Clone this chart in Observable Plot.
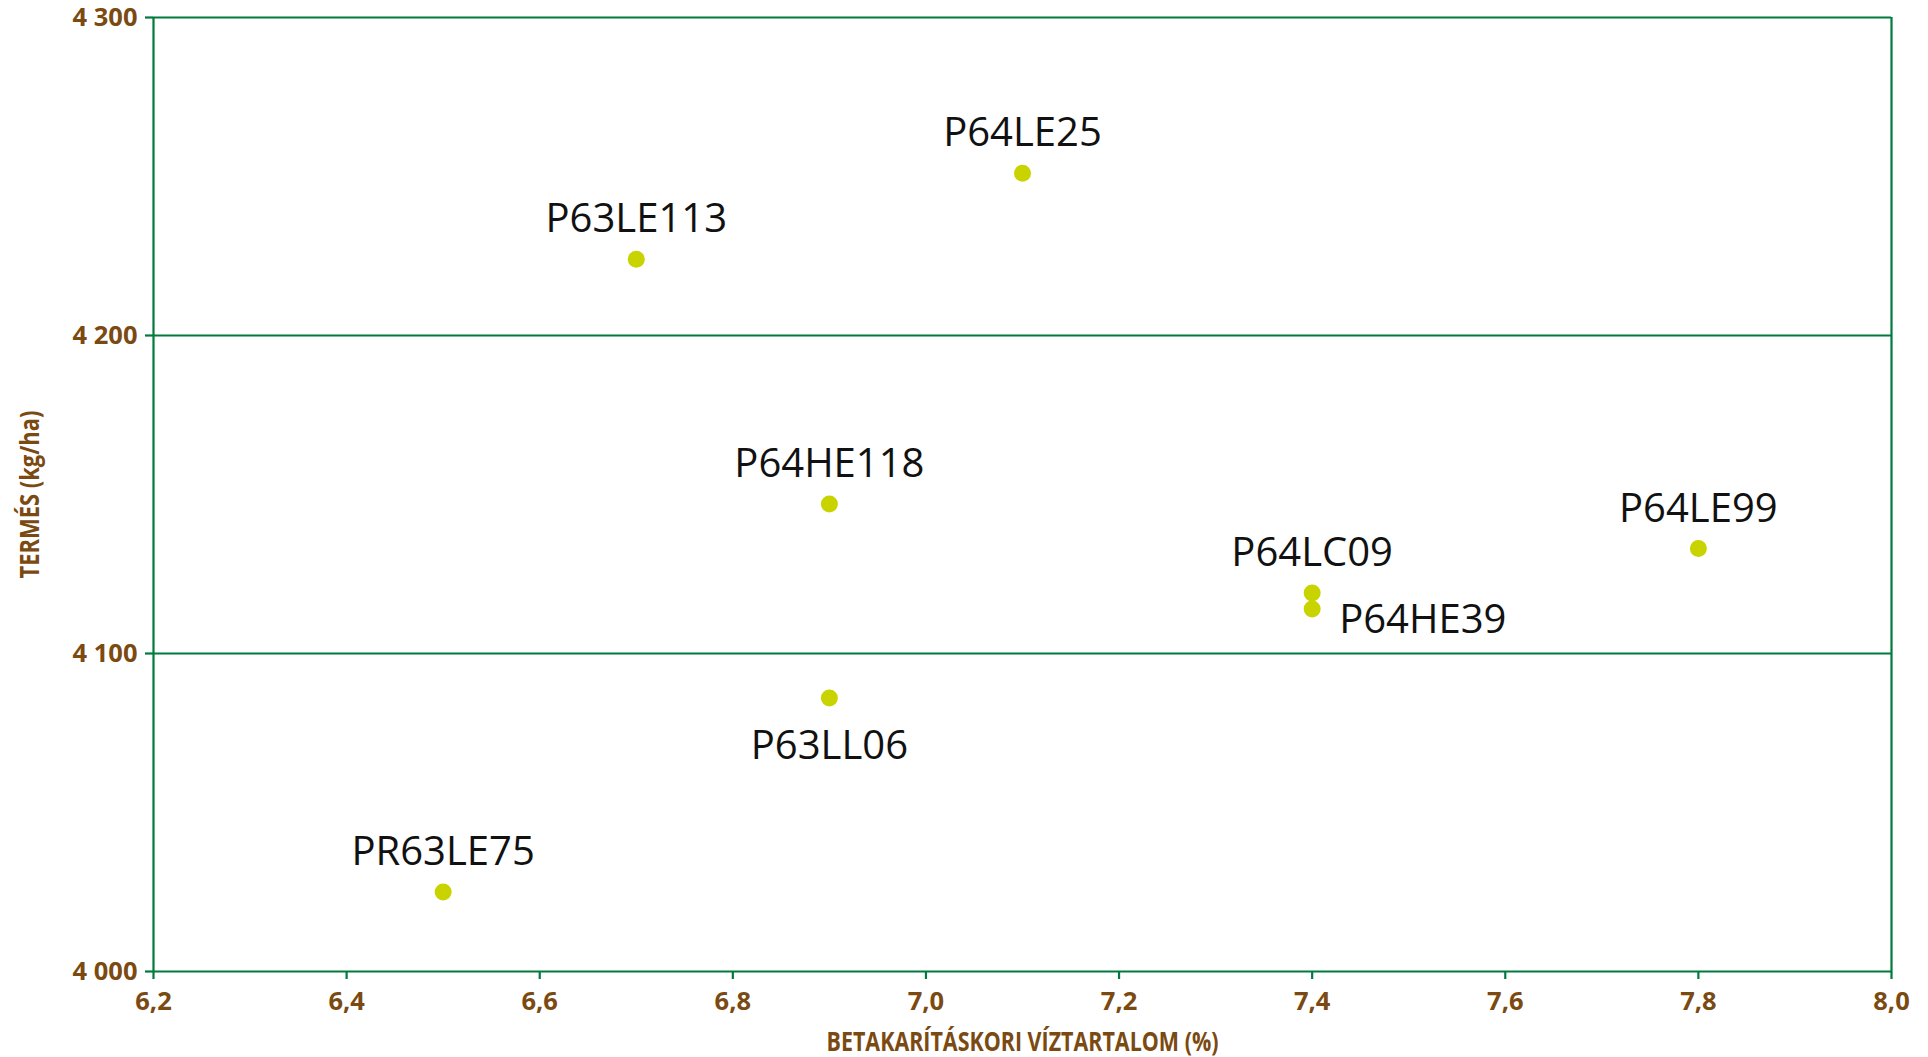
<!DOCTYPE html>
<html>
<head>
<meta charset="utf-8">
<script src="https://cdn.jsdelivr.net/npm/d3@7"></script>
<script src="https://cdn.jsdelivr.net/npm/@observablehq/plot@0.6"></script>
<style>
  html, body { margin: 0; padding: 0; background: #fff; }
  #chart svg { display: block; }
  #chart g[aria-label="x-axis tick"], #chart g[aria-label="y-axis tick"] { stroke: #007a3d; }
</style>
</head>
<body>
<div id="chart"></div>
<script>
// ---- data ----
const hybrids = ["PR63LE75", "P63LE113", "P64LE25", "P64HE118", "P63LL06", "P64LC09", "P64HE39", "P64LE99"];
const moisture = [6.5, 6.7, 7.1, 6.9, 6.9, 7.4, 7.4, 7.8];           // BETAKARÍTÁSKORI VÍZTARTALOM (%)
const yieldKg  = [4025, 4224, 4251, 4147, 4086, 4119, 4114, 4133];  // TERMÉS (kg/ha)
const xTicks = [6.2, 6.4, 6.6, 6.8, 7.0, 7.2, 7.4, 7.6, 7.8, 8.0];
const yTicks = [4000, 4100, 4200, 4300];
const xTitle = "BETAKARÍTÁSKORI VÍZTARTALOM (%)";
const yTitle = "TERMÉS (kg/ha)";

const rows = hybrids.map((name, i) => ({name, x: moisture[i], y: yieldKg[i]}));
const labelsBelow = new Set(["P63LL06"]);
const labelsRight = new Set(["P64HE39"]);

const green = "#007a3d";
const brown = "#7a4a12";
const dotColor = "#c9d300";

const chart = Plot.plot({
  width: 1928,
  height: 1057,
  marginLeft: 153,
  marginRight: 37,
  marginTop: 17,
  marginBottom: 86,
  style: {fontFamily: "'Open Sans', sans-serif", color: brown, background: "#fff"},
  x: {domain: [6.2, 8.0], label: xTitle, labelAnchor: "center", labelArrow: "none"},
  y: {domain: [4000, 4300], label: yTitle, labelAnchor: "center", labelArrow: "none"},
  marks: [
    Plot.ruleY(yTicks, {stroke: green, strokeWidth: 2.2}),
    Plot.ruleX([xTicks[0], xTicks[xTicks.length - 1]], {stroke: green, strokeWidth: 2.2}),
    Plot.axisX(xTicks, {
      tickSize: 8, tickPadding: 12,
      tickFormat: d => d.toFixed(1).replace(".", ","),
      fontSize: 25.5, fontWeight: "bold", fill: brown,
      label: xTitle, labelAnchor: "center", labelArrow: "none", labelOffset: 79, strokeWidth: 2.2
    }),
    Plot.axisY(yTicks, {
      tickSize: 8, tickPadding: 8,
      tickFormat: d => d3.format(",")(d).replace(",", " "),
      fontSize: 25.5, fontWeight: "bold", fill: brown,
      label: yTitle, labelAnchor: "center", labelArrow: "none", labelOffset: 134, strokeWidth: 2.2
    }),
    Plot.dot(rows, {x: "x", y: "y", r: 8.5, fill: dotColor, stroke: null}),
    Plot.text(rows.filter(d => !labelsBelow.has(d.name) && !labelsRight.has(d.name)), {
      x: "x", y: "y", text: "name", textAnchor: "middle", lineAnchor: "bottom", dy: -27,
      fontSize: 40, fill: "#111", fontFamily: "'Open Sans', sans-serif"
    }),
    Plot.text(rows.filter(d => labelsBelow.has(d.name)), {
      x: "x", y: "y", text: "name", textAnchor: "middle", lineAnchor: "top", dy: 33,
      fontSize: 40, fill: "#111", fontFamily: "'Open Sans', sans-serif"
    }),
    Plot.text(rows.filter(d => labelsRight.has(d.name)), {
      x: "x", y: "y", text: "name", textAnchor: "start", lineAnchor: "middle", dx: 27, dy: 11,
      fontSize: 40, fill: "#111", fontFamily: "'Open Sans', sans-serif"
    })
  ]
});

document.getElementById("chart").appendChild(chart);

// condensed bold axis titles
const svg = d3.select(chart);
svg.selectAll('g[aria-label="x-axis label"] text').text(xTitle);
svg.selectAll('g[aria-label="y-axis label"] text').text(yTitle);
svg.selectAll('g[aria-label="x-axis label"] text, g[aria-label="y-axis label"] text')
  .attr("font-size", 27).attr("font-weight", "bold").attr("fill", brown)
  .attr("lengthAdjust", "spacingAndGlyphs");
svg.selectAll('g[aria-label="x-axis label"] text').attr("textLength", 392);
svg.selectAll('g[aria-label="y-axis label"] text').attr("textLength", 168);
</script>
</body>
</html>
